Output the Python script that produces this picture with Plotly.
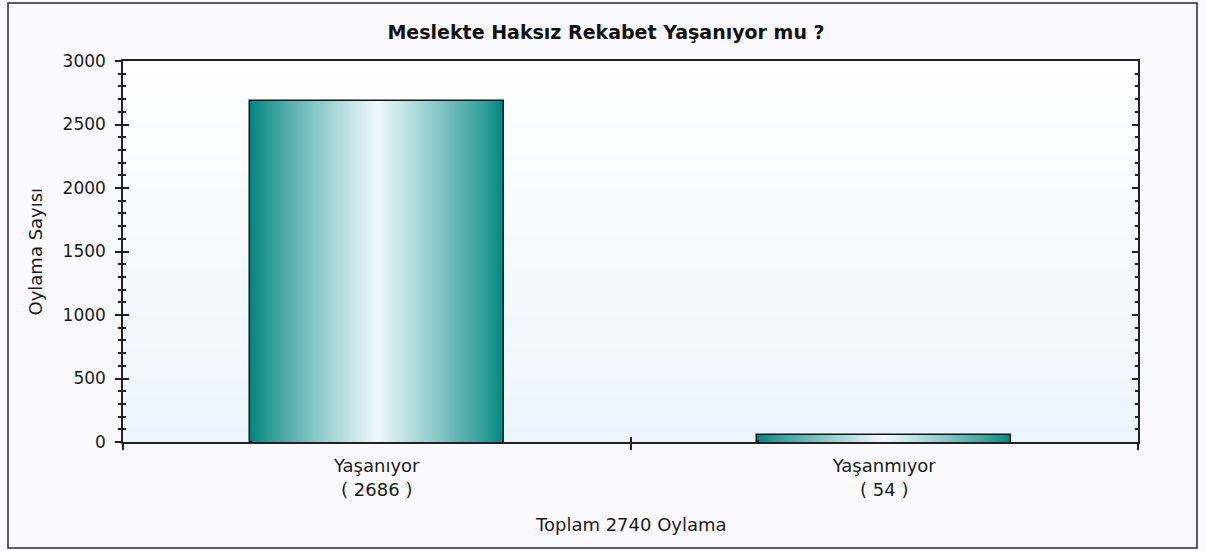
import plotly.graph_objects as go

# ---- data ----
categories = ["Yaşanıyor", "Yaşanmıyor"]
votes = [2686, 54]
total_votes = 2740
title_text = "Meslekte Haksız Rekabet Yaşanıyor mu ?"
y_title = "Oylama Sayısı"
y_range = [0, 3000]

# ---- layout geometry (pixels) ----
W, H = 1205, 551
L, R, T, B = 123, 67, 61, 109
pw, ph = W - L - R, H - T - B

def px_x(px):
    return (px - L) / pw

def px_y(py):
    return (H - B - py) / ph

FONT = "DejaVu Sans"
ticktext = [f"{c}<br>( {v} )" for c, v in zip(categories, votes)]

fig = go.Figure()

# horizontal gradient bars: stacked overlay bars, outer = dark teal, inner = light
N = 64
edge = (0, 134, 128)
center = (238, 247, 252)
for i in range(N):
    t = (i / (N - 1)) ** 0.85
    col = tuple(round(edge[k] + (center[k] - edge[k]) * t) for k in range(3))
    width = 0.5 * (1 - i / N)
    fig.add_trace(go.Bar(
        x=categories, y=votes, width=width,
        marker=dict(color=f"rgb{col}",
                    line=dict(color="#141414" if i == 0 else f"rgb{col}",
                              width=1.5 if i == 0 else 0)),
        hoverinfo="skip" if i else "x+y", showlegend=False,
    ))

# helper invisible trace for the inside tick axes
fig.add_trace(go.Scatter(x=categories, y=votes, xaxis="x2", yaxis="y2",
                         mode="markers", marker=dict(opacity=0),
                         hoverinfo="skip", showlegend=False))

# plot-area vertical gradient (white top -> light blue bottom)
shapes = []
NB = 24
top_c = (255, 255, 255)
bot_c = (236, 245, 253)
for i in range(NB):
    t = (i + 0.5) / NB
    col = tuple(round(top_c[k] + (bot_c[k] - top_c[k]) * t) for k in range(3))
    shapes.append(dict(type="rect", xref="x domain", yref="y domain",
                       x0=0, x1=1, y0=1 - (i + 1) / NB, y1=1 - i / NB,
                       fillcolor=f"rgb{col}", line=dict(width=0), layer="below"))
# outer frame
shapes.append(dict(type="rect", xref="paper", yref="paper",
                   x0=px_x(8), x1=px_x(1197), y0=px_y(548), y1=px_y(3),
                   line=dict(color="#2a2a2a", width=1.5), fillcolor="rgba(0,0,0,0)",
                   layer="below"))

num_font = dict(family=FONT, size=17, color="#1a1a1a")
txt_font = dict(family=FONT, size=18, color="#1a1a1a")

fig.update_layout(
    width=W, height=H,
    margin=dict(l=L, r=R, t=T, b=B),
    paper_bgcolor="#fafafe",
    plot_bgcolor="rgba(0,0,0,0)",
    barmode="overlay",
    bargap=0,
    showlegend=False,
    shapes=shapes,
    title=dict(text=f"<b>{title_text}</b>", x=606 / W,
               xanchor="center", y=1 - 32 / H, yanchor="middle",
               font=dict(family=FONT, size=19, color="#111111")),
    xaxis=dict(type="category", range=[-0.5, 1.5], tickson="boundaries",
               ticks="outside", ticklen=6, tickwidth=1.5, tickcolor="#222",
               tickmode="array", tickvals=categories, ticktext=ticktext,
               tickfont=txt_font, ticklabelstandoff=7,
               showline=True, linecolor="#222", linewidth=1.5,
               mirror=True, showgrid=False, zeroline=False, fixedrange=True),
    yaxis=dict(range=y_range, dtick=500, ticks="outside", ticklen=6, tickwidth=1.5,
               tickcolor="#222", tickfont=num_font, ticklabelstandoff=6,
               minor=dict(dtick=100, ticks="outside", ticklen=3, tickwidth=1.5,
                          tickcolor="#222", showgrid=False),
               showline=True, linecolor="#222", linewidth=1.5, mirror=True,
               showgrid=False, zeroline=False, fixedrange=True),
    xaxis2=dict(type="category", overlaying="x", range=[-0.5, 1.5],
                tickson="boundaries", ticks="inside", ticklen=5, tickwidth=1.5,
                tickcolor="#222", showticklabels=False, showline=False,
                showgrid=False, zeroline=False, fixedrange=True),
    yaxis2=dict(overlaying="y", range=y_range, dtick=500, ticks="inside", ticklen=6,
                tickwidth=1.5, tickcolor="#222", showticklabels=False,
                minor=dict(dtick=100, ticks="inside", ticklen=3, tickwidth=1.5,
                           tickcolor="#222", showgrid=False),
                showline=False, mirror="ticks", showgrid=False, zeroline=False,
                fixedrange=True),
    annotations=[
        dict(text=y_title, xref="paper", yref="paper", x=px_x(35), y=0.5,
             textangle=-90, showarrow=False, xanchor="center", yanchor="middle",
             font=txt_font),
        dict(text=f"Toplam {total_votes} Oylama", xref="paper", yref="paper",
             x=0.5, y=px_y(524), showarrow=False, xanchor="center",
             yanchor="middle", font=txt_font),
    ],
)

fig.write_html("out.html", config={"displayModeBar": False},
               post_script="document.body.style.margin='0';document.body.style.overflow='hidden';")
